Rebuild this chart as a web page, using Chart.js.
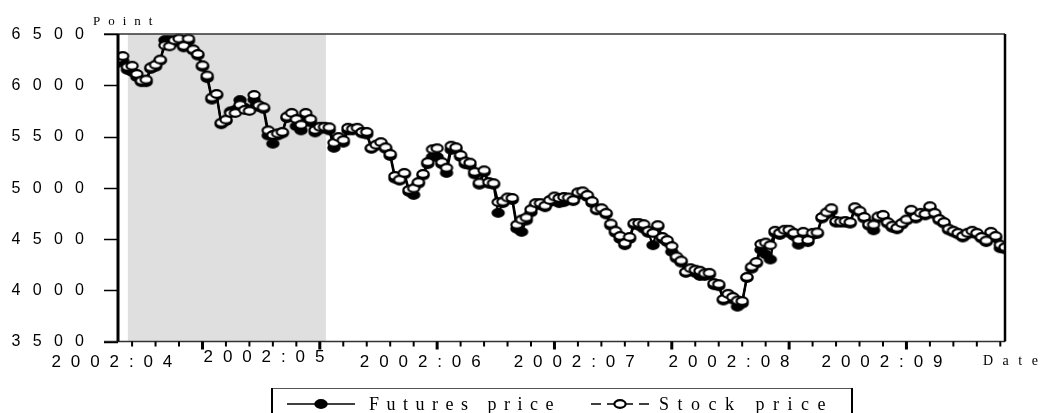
<!DOCTYPE html>
<html><head><meta charset="utf-8">
<script src="https://cdn.jsdelivr.net/npm/chart.js@4.4.1/dist/chart.umd.min.js"></script>
<style>html,body{margin:0;padding:0;background:#fff;}canvas{display:block;}</style>
</head><body>
<canvas id="c" width="1040" height="413"></canvas>
<script>
// ---- data ----
const monthLabels = ['2002:04','2002:05','2002:06','2002:07','2002:08','2002:09'];
const monthLabelAt = [-1.3, 31.1, 64.4, 97.2, 130.2, 162.8];   // observation index of each month label
const yTicks = [3500, 4000, 4500, 5000, 5500, 6000, 6500];
const shadedPeriod = [2.1, 44.3];                                  // observation index range
const seriesNames = ['Futures price', 'Stock price'];
const futuresPrice = [
6220,6240,6150,6130,6080,6030,6030,6160,6180,6240,
6440,6440,6420,6430,6370,6430,6340,6290,6180,6070,
5860,5900,5620,5650,5745,5760,5855,5780,5760,5860,
5790,5770,5510,5430,5510,5530,5680,5710,5600,5560,
5700,5640,5540,5570,5580,5560,5390,5480,5440,5560,
5560,5570,5530,5520,5380,5410,5430,5380,5310,5090,
5070,5130,4960,4930,5040,5120,5230,5300,5300,5230,
5145,5370,5380,5300,5230,5220,5130,5030,5150,5040,
5030,4755,4850,4890,4880,4600,4570,4680,4760,4830,
4830,4810,4860,4890,4850,4860,4880,4870,4930,4950,
4910,4850,4780,4790,4740,4630,4560,4500,4440,4500,
4640,4630,4600,4560,4440,4620,4500,4470,4375,4310,
4270,4170,4190,4170,4140,4140,4150,4050,4040,3900,
3940,3910,3840,3870,4120,4210,4260,4395,4350,4300,
4560,4540,4570,4560,4530,4445,4550,4470,4540,4550,
4700,4740,4770,4660,4660,4660,4650,4790,4760,4700,
4630,4585,4700,4720,4650,4610,4595,4640,4680,4770,
4700,4740,4730,4800,4740,4680,4650,4585,4565,4545,
4515,4545,4565,4545,4505,4470,4550,4510,4410,4400
];
const stockPrice = [
6260,6285,6180,6190,6110,6045,6055,6175,6200,6250,
6390,6380,6440,6455,6385,6455,6350,6305,6195,6095,
5880,5915,5635,5665,5730,5730,5810,5760,5750,5905,
5805,5785,5560,5515,5530,5545,5695,5730,5670,5615,
5730,5670,5565,5595,5595,5590,5440,5495,5465,5585,
5575,5585,5545,5545,5390,5420,5445,5395,5330,5115,
5080,5145,4980,4995,5055,5135,5250,5375,5385,5250,
5195,5410,5395,5320,5255,5245,5155,5050,5170,5055,
5045,4860,4865,4905,4900,4640,4690,4710,4790,4850,
4850,4825,4880,4915,4900,4910,4905,4880,4955,4965,
4930,4870,4790,4800,4755,4650,4580,4530,4460,4520,
4655,4655,4645,4580,4560,4635,4520,4490,4430,4330,
4290,4180,4215,4200,4190,4165,4170,4070,4060,3915,
3965,3935,3900,3895,4130,4230,4275,4450,4465,4440,
4580,4560,4590,4590,4560,4490,4570,4490,4560,4565,
4715,4760,4800,4675,4670,4675,4665,4810,4775,4715,
4645,4640,4720,4735,4665,4630,4610,4655,4690,4785,
4715,4755,4745,4820,4755,4695,4665,4600,4580,4560,
4530,4560,4580,4560,4520,4485,4570,4530,4445,4420
];

// ---- markers ----
function ellipseMarker(fill){
  const c = document.createElement('canvas'); c.width = 16; c.height = 12;
  const g = c.getContext('2d');
  g.beginPath(); g.ellipse(8, 6, 5.6, 3.8, 0, 0, Math.PI*2);
  g.fillStyle = fill; g.fill(); g.lineWidth = 2.2; g.strokeStyle = '#000'; g.stroke();
  return c;
}
const blackMark = ellipseMarker('#000');
const whiteMark = ellipseMarker('#fff');

function spacedText(ctx, txt, x, y, ls, align){
  ctx.letterSpacing = ls + 'px';
  const w = ctx.measureText(txt).width - ls;
  let sx = x;
  if (align === 'center') sx = x - w/2;
  else if (align === 'right') sx = x - w;
  ctx.textAlign = 'left';
  ctx.fillText(txt, sx, y);
  ctx.letterSpacing = '0px';
}

const framePlugin = {
  id: 'frame',
  beforeDatasetsDraw(chart){
    const {ctx, chartArea:a, scales:{x}} = chart;
    ctx.save();
    ctx.fillStyle = '#dfdfdf';
    const x0 = x.getPixelForValue(shadedPeriod[0]), x1 = x.getPixelForValue(shadedPeriod[1]);
    ctx.fillRect(x0, a.top, x1 - x0, a.bottom - a.top);
    ctx.restore();
  },
  afterDatasetsDraw(chart){
    const {ctx, chartArea:a, scales:{x, y}} = chart;
    ctx.save();
    // top & bottom lines
    ctx.strokeStyle = '#333'; ctx.lineWidth = 1.5;
    ctx.beginPath(); ctx.moveTo(a.left - 14, a.top); ctx.lineTo(a.right, a.top); ctx.stroke();
    ctx.beginPath(); ctx.moveTo(a.left - 14, a.bottom); ctx.lineTo(a.right, a.bottom); ctx.stroke();
    // y ticks
    ctx.strokeStyle = '#000'; ctx.lineWidth = 1.5;
    yTicks.forEach(v => {
      const py = Math.round(y.getPixelForValue(v)) + 0.5;
      ctx.beginPath(); ctx.moveTo(a.left - 14, py); ctx.lineTo(a.left, py); ctx.stroke();
    });
    // left & right axes
    ctx.strokeStyle = '#000'; ctx.lineWidth = 3;
    ctx.beginPath(); ctx.moveTo(a.left, a.top); ctx.lineTo(a.left, a.bottom); ctx.stroke();
    ctx.lineWidth = 2.5;
    ctx.beginPath(); ctx.moveTo(a.right, a.top); ctx.lineTo(a.right, a.bottom); ctx.stroke();
    // x ticks: every 5 obs, major every 25
    for (let i = 3; i <= x.max; i += 5) {
      const px = x.getPixelForValue(i);
      const major = ((i - 18) % 25 === 0);
      ctx.lineWidth = major ? 3 : 2;
      ctx.beginPath(); ctx.moveTo(px, a.bottom); ctx.lineTo(px, a.bottom + (major ? 8 : 5)); ctx.stroke();
    }
    // y labels
    ctx.fillStyle = '#000';
    ctx.font = '16px "Liberation Sans", Arial, sans-serif';
    ctx.textBaseline = 'middle';
    yTicks.forEach(v => spacedText(ctx, String(v), 84, y.getPixelForValue(v) + 0.5, 12.3, 'right'));
    // x labels
    ctx.font = '17px "Liberation Sans", Arial, sans-serif';
    ctx.textBaseline = 'alphabetic';
    monthLabels.forEach((t, k) => {
      spacedText(ctx, t, x.getPixelForValue(monthLabelAt[k]), k === 1 ? 362 : 367, 9.9, 'center');
    });
    // axis titles
    ctx.font = '13px "Liberation Serif", "Times New Roman", serif';
    spacedText(ctx, 'Point', 93, 25, 8, 'left');
    ctx.font = '14px "Liberation Serif", "Times New Roman", serif';
    spacedText(ctx, 'Date', 983, 365, 9.5, 'left');
    // legend box
    ctx.strokeStyle = '#555'; ctx.lineWidth = 1;
    ctx.beginPath(); ctx.moveTo(271, 388.5); ctx.lineTo(853, 388.5); ctx.stroke();
    ctx.strokeStyle = '#000'; ctx.lineWidth = 2;
    ctx.beginPath(); ctx.moveTo(272, 388); ctx.lineTo(272, 420); ctx.stroke();
    ctx.beginPath(); ctx.moveTo(852, 388); ctx.lineTo(852, 420); ctx.stroke();
    const ly = 404;
    ctx.lineWidth = 1.5;
    ctx.beginPath(); ctx.moveTo(287, ly); ctx.lineTo(355, ly); ctx.stroke();
    ctx.drawImage(blackMark, 321 - 8, ly - 6);
    ctx.setLineDash([10, 6]);
    ctx.beginPath(); ctx.moveTo(591, ly); ctx.lineTo(653, ly); ctx.stroke();
    ctx.setLineDash([]);
    ctx.drawImage(whiteMark, 620 - 8, ly - 6);
    ctx.font = '18px "Liberation Serif", "Times New Roman", serif';
    ctx.textBaseline = 'alphabetic';
    spacedText(ctx, seriesNames[0], 369, 410, 7.5, 'left');
    spacedText(ctx, seriesNames[1], 659, 410, 8.5, 'left');
    ctx.restore();
  }
};

new Chart(document.getElementById('c'), {
  type: 'line',
  data: { datasets: [
    { label: seriesNames[0], data: futuresPrice.map((v, i) => ({x: i, y: v})),
      borderColor: '#000', borderWidth: 2.2, pointStyle: blackMark, pointRadius: 5,
      order: 2, clip: {left: 0, right: 0, top: 10, bottom: 10} },
    { label: seriesNames[1], data: stockPrice.map((v, i) => ({x: i, y: v})),
      borderColor: '#000', borderWidth: 2.2, pointStyle: whiteMark, pointRadius: 5,
      order: 1, clip: {left: 0, right: 0, top: 10, bottom: 10} }
  ]},
  options: {
    responsive: false, animation: false, devicePixelRatio: 1,
    layout: { padding: { left: 118, right: 35, top: 34, bottom: 71.5 } },
    scales: {
      x: { type: 'linear', min: 0, max: futuresPrice.length - 1, display: false },
      y: { min: 3500, max: 6500, display: false }
    },
    elements: { line: { tension: 0 } },
    plugins: { legend: { display: false }, tooltip: { enabled: false } }
  },
  plugins: [framePlugin]
});
</script>
</body></html>
